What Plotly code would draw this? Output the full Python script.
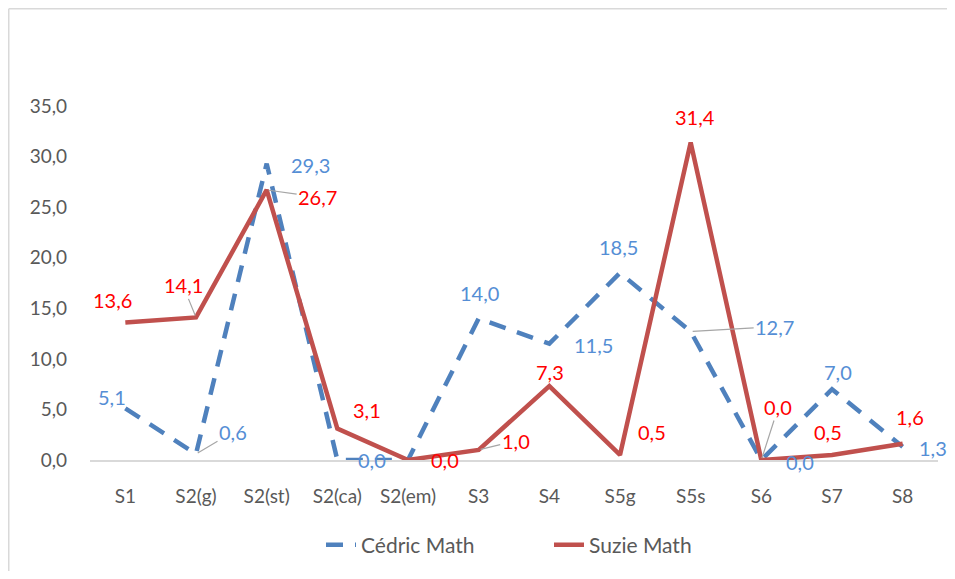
import plotly.graph_objects as go

categories = ["S1", "S2(g)", "S2(st)", "S2(ca)", "S2(em)", "S3", "S4", "S5g", "S5s", "S6", "S7", "S8"]
cedric_math = [5.1, 0.6, 29.3, 0.0, 0.0, 14.0, 11.5, 18.5, 12.7, 0.0, 7.0, 1.3]
suzie_math = [13.6, 14.1, 26.7, 3.1, 0.0, 1.0, 7.3, 0.5, 31.4, 0.0, 0.5, 1.6]
y_ticks = [0, 5, 10, 15, 20, 25, 30, 35]

# label placement offsets in pixels (dx, dy), None = no label; and leader line flags
cedric_offsets = [(-13, -11), (37, -22), (44, 1), (35, 0), None, (1, -25),
                  (44, 1), (-2, -26), (84, -5), (39, 2), (6, -17), (30, 1)]
cedric_leader = [False, True, False, False, False, False, False, False, True, False, False, False]
suzie_offsets = [(-13, -22), (-13, -32), (51, 7), (30, -19), (37, 0), (37, -9),
                 (1, -14), (32, -23), (4, -25), (17, -53), (-4, -23), (7, -27)]
suzie_leader = [False, True, True, False, False, True, False, False, False, True, False, False]

FONT = "Lato, Carlito, Calibri, sans-serif"
BLUE_LINE = "#4F81BD"
RED_LINE = "#C0504D"
BLUE_TXT = "#558ED5"
RED_TXT = "#FF0000"

# the page body adds an 8px margin, so the figure is drawn smaller and shifted
W, H = 939, 563
L, R, T, B = 82, 9, 98, 111
PW = W - L - R
PH = H - T - B

fig = go.Figure()
fig.add_trace(go.Scatter(
    x=categories, y=cedric_math, mode="lines", name="Cédric Math",
    line=dict(color=BLUE_LINE, width=4.5, dash="17px,12px"),
))
fig.add_trace(go.Scatter(
    x=categories, y=suzie_math, mode="lines", name="Suzie Math",
    line=dict(color=RED_LINE, width=4.5),
))


def fmt(v):
    return f"{v:.1f}".replace(".", ",")


annotations = []
for vals, offs, leads, col in [(cedric_math, cedric_offsets, cedric_leader, BLUE_TXT),
                               (suzie_math, suzie_offsets, suzie_leader, RED_TXT)]:
    for c, v, o, ld in zip(categories, vals, offs, leads):
        if o is None:
            continue
        annotations.append(dict(
            x=c, y=v, xref="x", yref="y", text=fmt(v),
            showarrow=True, ax=o[0], ay=o[1], axref="pixel", ayref="pixel",
            arrowhead=0, arrowwidth=1.2, standoff=2,
            arrowcolor="#A6A6A6" if ld else "rgba(0,0,0,0)",
            font=dict(family=FONT, size=20, color=col),
        ))

x_left = (0.75 - L) / PW
y_top = (PH + T - 0.75) / PH
fig.update_layout(
    width=W, height=H,
    margin=dict(l=L, r=R, t=T, b=B, autoexpand=False),
    paper_bgcolor="white", plot_bgcolor="white",
    separators=", ",
    font=dict(family=FONT, size=19, color="#595959"),
    showlegend=True,
    legend=dict(orientation="h", x=(313 - L) / PW, xanchor="left",
                y=-(537 - (H - B)) / PH, yanchor="middle",
                font=dict(family=FONT, size=21, color="#595959"),
                entrywidth=183, entrywidthmode="pixels",
                traceorder="normal"),
    annotations=annotations,
    shapes=[
        dict(type="line", xref="paper", yref="paper", x0=x_left, x1=x_left, y0=-1.0, y1=y_top,
             line=dict(color="#D9D9D9", width=1.5), layer="below"),
        dict(type="line", xref="paper", yref="paper", x0=x_left, x1=1.2, y0=y_top, y1=y_top,
             line=dict(color="#D9D9D9", width=1.5), layer="below"),
    ],
)
fig.update_xaxes(type="category", range=[-0.5, 11.5], showgrid=False, zeroline=False,
                 showline=True, linecolor="#D9D9D9", linewidth=1.5, automargin=False,
                 ticks="", ticklabelstandoff=18,
                 tickfont=dict(family=FONT, size=19, color="#595959"))
fig.update_yaxes(range=[0, 35], tickvals=y_ticks, tickformat=".1f", showgrid=False,
                 zeroline=False, showline=False, ticks="", ticklabelstandoff=22,
                 automargin=False,
                 tickfont=dict(family=FONT, size=19, color="#595959"))

fig.write_html("out.html")
